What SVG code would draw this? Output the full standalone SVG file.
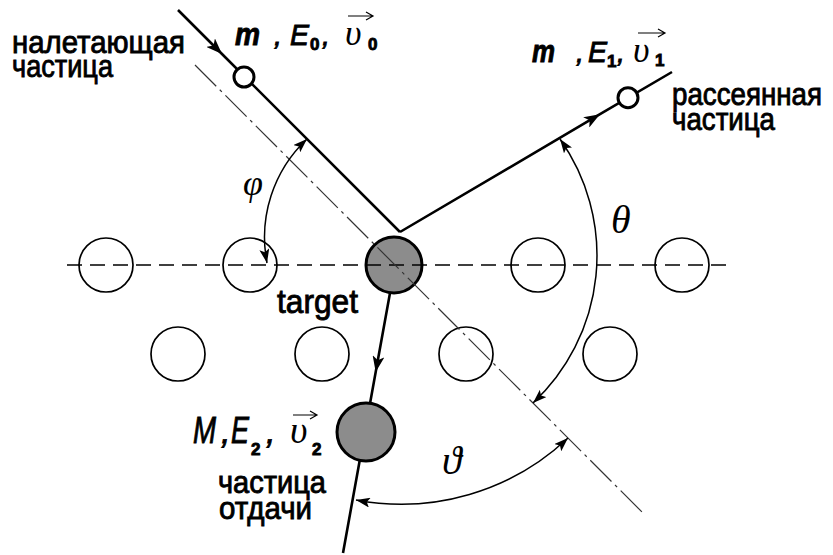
<svg xmlns="http://www.w3.org/2000/svg" width="833" height="555" viewBox="0 0 833 555">
<defs>
<style>
.sans{font-family:"Liberation Sans",Arial,sans-serif;fill:#000;stroke:#000;stroke-width:0.9}
.ru{font-size:32px}
.it{font-style:italic}
.bi{font-style:italic;font-weight:bold}
.sub{font-size:17px;font-weight:bold;font-style:normal}
.gr{font-family:"Liberation Serif","DejaVu Serif",serif;font-style:italic;fill:#000}
.main{stroke:#000;stroke-width:2.6;fill:none}
.arc{stroke:#000;stroke-width:1.5;fill:none}
.atom{stroke:#000;stroke-width:1.7;fill:none}
.dash{stroke:#000;stroke-width:1.5;fill:none;stroke-dasharray:15 8}
.dashdot{stroke:#333;stroke-width:1.2;fill:none;stroke-dasharray:30 5 3 5}
.small{stroke:#000;stroke-width:3;fill:#fff}
.heavy{stroke:#000;stroke-width:3;fill:#8c8c8c}
.vec{stroke:#000;stroke-width:1.2;fill:none}
</style>
<marker id="mid" markerWidth="18" markerHeight="12" refX="16" refY="6" orient="auto" markerUnits="userSpaceOnUse">
<path d="M0,0 L16,6 L0,12 L4,6 Z" fill="#000"/>
</marker>
<marker id="tip" markerWidth="16" markerHeight="10" refX="14" refY="5" orient="auto-start-reverse" markerUnits="userSpaceOnUse">
<path d="M0,0 L14,5 L0,10 L3,5 Z" fill="#000"/>
</marker>
</defs>
<rect width="833" height="555" fill="#fff"/>

<g id="lattice">
<circle class="atom" cx="106" cy="265" r="27"/>
<circle class="atom" cx="250" cy="265" r="27"/>
<circle class="atom" cx="538" cy="265" r="27"/>
<circle class="atom" cx="682" cy="265" r="27"/>
<circle class="atom" cx="178" cy="354" r="27"/>
<circle class="atom" cx="322" cy="354" r="27"/>
<circle class="atom" cx="466" cy="354" r="27"/>
<circle class="atom" cx="610" cy="354" r="27"/>
</g>

<g id="target">
<circle class="heavy" cx="394" cy="265" r="28"/>
<text class="sans" x="277" y="313" font-size="34" textLength="81" lengthAdjust="spacingAndGlyphs">target</text>
</g>

<g id="connectors">
<line class="dash" x1="67" y1="265" x2="728" y2="265"/>
<line class="dashdot" x1="195" y1="65" x2="642" y2="512"/>
<path class="main" d="M178,10 L222,54 L400,232" marker-mid="url(#mid)"/>
<path class="main" d="M400,232 L600,114.2 L672,72" marker-mid="url(#mid)"/>
<path class="main" d="M390,293 L375.7,372 L343,553" marker-mid="url(#mid)"/>
<path class="arc" d="M307,139 A135,135 0 0 0 267,263" marker-start="url(#tip)" marker-end="url(#tip)"/>
<path class="arc" d="M560,139 A202,202 0 0 1 533,403" marker-start="url(#tip)" marker-end="url(#tip)"/>
<path class="arc" d="M568,438 A243,243 0 0 1 356,500" marker-start="url(#tip)" marker-end="url(#tip)"/>
</g>

<g id="incident">
<circle class="small" cx="244" cy="77" r="10"/>
<text class="sans ru" x="12" y="53" textLength="173" lengthAdjust="spacingAndGlyphs">налетающая</text>
<text class="sans ru" x="12" y="77" textLength="101" lengthAdjust="spacingAndGlyphs">частица</text>
<text class="sans bi" x="235" y="45" font-size="31" textLength="25" lengthAdjust="spacingAndGlyphs">m</text>
<text class="sans it" x="274" y="45" font-size="28">,</text>
<text class="sans it" x="290" y="45" font-size="29" textLength="19" lengthAdjust="spacingAndGlyphs">E</text>
<text class="sans sub" x="310" y="50">0</text>
<text class="sans it" x="322" y="45" font-size="28">,</text>
<text class="gr" x="345" y="45" font-size="36">υ</text>
<text class="sans sub" x="368" y="50">0</text>
<path class="vec" d="M348,16 H372 M366,12 L373,16 L366,20"/>
</g>

<g id="scattered">
<circle class="small" cx="628" cy="97.7" r="10"/>
<text class="sans ru" x="672" y="105" textLength="150" lengthAdjust="spacingAndGlyphs">рассеянная</text>
<text class="sans ru" x="672" y="130" textLength="103" lengthAdjust="spacingAndGlyphs">частица</text>
<text class="sans bi" x="532" y="62" font-size="31" textLength="23" lengthAdjust="spacingAndGlyphs">m</text>
<text class="sans it" x="576" y="62" font-size="28">,</text>
<text class="sans it" x="588" y="62" font-size="29" textLength="19" lengthAdjust="spacingAndGlyphs">E</text>
<text class="sans sub" x="607" y="67">1</text>
<text class="sans it" x="617" y="62" font-size="28">,</text>
<text class="gr" x="633" y="62" font-size="36">υ</text>
<text class="sans sub" x="655" y="66">1</text>
<path class="vec" d="M638,33 H664 M658,29 L665,33 L658,37"/>
</g>

<g id="recoil">
<circle class="heavy" cx="366" cy="432" r="29"/>
<text class="sans it" x="193" y="443" font-size="37" textLength="23" lengthAdjust="spacingAndGlyphs">M</text>
<text class="sans it" x="221" y="443" font-size="34">,</text>
<text class="sans it" x="231" y="443" font-size="37" textLength="18" lengthAdjust="spacingAndGlyphs">E</text>
<text class="sans sub" x="251" y="455" font-size="19">2</text>
<text class="sans it" x="266" y="443" font-size="34">,</text>
<text class="gr" x="290" y="443" font-size="38">υ</text>
<text class="sans sub" x="312" y="455" font-size="19">2</text>
<path class="vec" d="M293,415 H316 M310,411 L317,415 L310,419"/>
<text class="sans ru" x="218" y="493" textLength="108" lengthAdjust="spacingAndGlyphs">частица</text>
<text class="sans ru" x="219" y="519" textLength="93" lengthAdjust="spacingAndGlyphs">отдачи</text>
</g>

<g id="angles">
<text class="gr" x="243" y="195" font-size="36">φ</text>
<text class="gr" x="611" y="233" font-size="40">θ</text>
<text class="gr" x="442" y="474" font-size="40">ϑ</text>
</g>
</svg>
